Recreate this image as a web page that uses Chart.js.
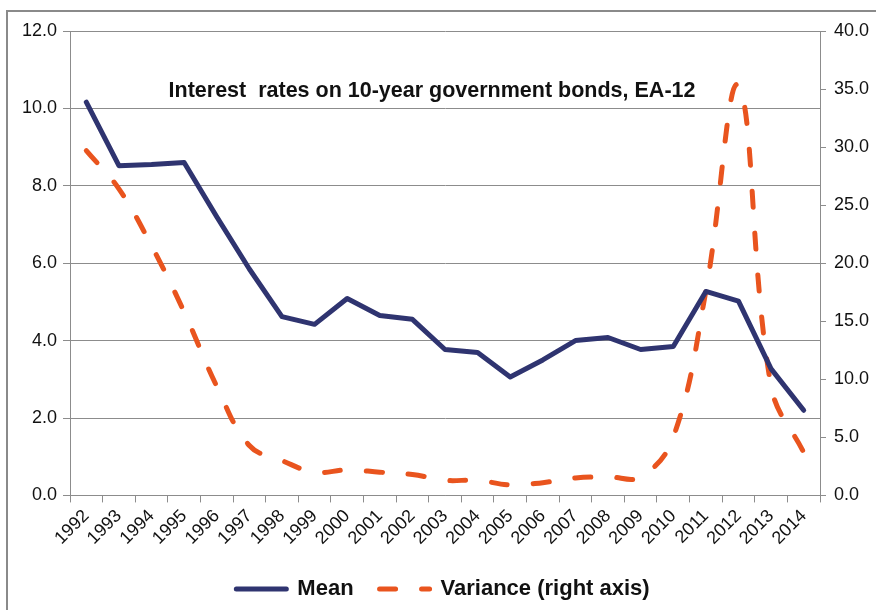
<!DOCTYPE html>
<html>
<head>
<meta charset="utf-8">
<script src="https://cdn.jsdelivr.net/npm/chart.js@4/dist/chart.umd.min.js"></script>
<style>
  body { margin: 0; background: #fff; }
  #wrap { width: 876px; height: 610px; }
</style>
</head>
<body>
<div id="wrap"><canvas id="bondChart" width="876" height="610"></canvas></div>
<script>
// Interest rates on 10-year government bonds, EA-12
const years = ['1992', '1993', '1994', '1995', '1996', '1997', '1998', '1999', '2000', '2001', '2002',
               '2003', '2004', '2005', '2006', '2007', '2008', '2009', '2010', '2011', '2012', '2013', '2014'];
const meanRate = [10.16, 8.52, 8.55, 8.6, 7.2, 5.85, 4.62, 4.42, 5.09, 4.65, 4.55,
                  3.77, 3.69, 3.06, 3.5, 4.0, 4.08, 3.77, 3.85, 5.27, 5.02, 3.27, 2.2];
const variance = [29.7, 26.4, 21.5, 15.8, 9.4, 4.3, 3.0, 2.0, 2.2, 2.0, 1.8,
                  1.3, 1.3, 0.9, 1.1, 1.5, 1.6, 1.6, 5.0, 17.6, 35.3, 9.4, 3.7];
const seriesNames = ['Mean', 'Variance (right axis)'];
const leftAxis = { min: 0, max: 12, step: 2 };
const rightAxis = { min: 0, max: 40, step: 5 };
const chartTitle = 'Interest  rates on 10-year government bonds, EA-12';

const navy = '#2f3470';
const orange = '#e9541e';
const gray = '#8c8c8c';
const font = 'Liberation Sans, Arial, sans-serif';

// grey frame around the chart and the title inside the plot
const decorations = {
    id: 'decorations',
    beforeDraw(chart) {
        const ctx = chart.ctx;
        ctx.save();
        ctx.strokeStyle = '#8a8a8a';
        ctx.lineWidth = 2;
        ctx.beginPath();
        ctx.moveTo(7, 610);
        ctx.lineTo(7, 11);
        ctx.lineTo(876, 11);
        ctx.stroke();
        ctx.restore();
    },
    afterDatasetsDraw(chart) {
        const ctx = chart.ctx;
        ctx.save();
        ctx.font = 'bold 21.5px ' + font;
        ctx.fillStyle = '#111';
        ctx.textAlign = 'center';
        ctx.textBaseline = 'alphabetic';
        ctx.fillText(chartTitle, 432, 97);
        ctx.restore();
    }
};

const ctx = document.getElementById('bondChart').getContext('2d');
const bondChart = new Chart(ctx, {
    type: 'line',
    data: {
        labels: years,
        datasets: [{
            label: seriesNames[0],
            data: meanRate,
            yAxisID: 'y',
            borderColor: navy,
            backgroundColor: navy,
            borderWidth: 5,
            borderCapStyle: 'round',
            borderJoinStyle: 'round',
            pointRadius: 0,
            tension: 0
        }, {
            label: seriesNames[1],
            data: variance,
            yAxisID: 'y1',
            borderColor: orange,
            backgroundColor: orange,
            borderWidth: 5,
            borderDash: [16, 26],
            borderCapStyle: 'round',
            pointRadius: 0,
            tension: 0.4
        }]
    },
    options: {
        responsive: false,
        animation: false,
        layout: { padding: { left: 10, right: 0, top: 31, bottom: 0 } },
        plugins: {
            title: { display: false },
            tooltip: { enabled: false },
            legend: {
                position: 'bottom',
                labels: {
                    usePointStyle: true,
                    pointStyle: 'line',
                    pointStyleWidth: 50,
                    padding: 26,
                    color: '#111',
                    font: { family: font, size: 22, weight: 'bold' },
                    // keep each series' own stroke (dash, width, caps) in the legend sample
                    generateLabels(chart) {
                        const items = Chart.defaults.plugins.legend.labels.generateLabels(chart);
                        items.forEach(item => {
                            const ds = chart.data.datasets[item.datasetIndex];
                            item.lineDash = ds.borderDash || [];
                            item.lineWidth = ds.borderWidth;
                            item.lineCap = 'round';
                            item.strokeStyle = ds.borderColor;
                        });
                        return items;
                    }
                }
            }
        },
        scales: {
            x: {
                offset: true,
                grid: { offset: true, drawOnChartArea: false, drawTicks: true, tickLength: 7, color: gray },
                border: { color: gray },
                ticks: {
                    autoSkip: false,
                    minRotation: 45, maxRotation: 45, padding: 3,
                    color: '#111', font: { family: font, size: 18 }
                }
            },
            y: {
                position: 'left',
                min: leftAxis.min, max: leftAxis.max,
                grid: { color: gray, tickLength: 7 },
                border: { color: gray },
                ticks: {
                    stepSize: leftAxis.step, padding: 6,
                    color: '#111', font: { family: font, size: 18 },
                    callback: v => v.toFixed(1)
                },
                afterFit(scale) { scale.width = 60; }
            },
            y1: {
                position: 'right',
                min: rightAxis.min, max: rightAxis.max,
                grid: { drawOnChartArea: false, color: gray, tickLength: 6 },
                border: { color: gray },
                ticks: {
                    stepSize: rightAxis.step, padding: 8,
                    color: '#111', font: { family: font, size: 18 },
                    callback: v => v.toFixed(1)
                },
                afterFit(scale) { scale.width = 56; }
            }
        }
    },
    plugins: [decorations]
});
</script>
</body>
</html>
